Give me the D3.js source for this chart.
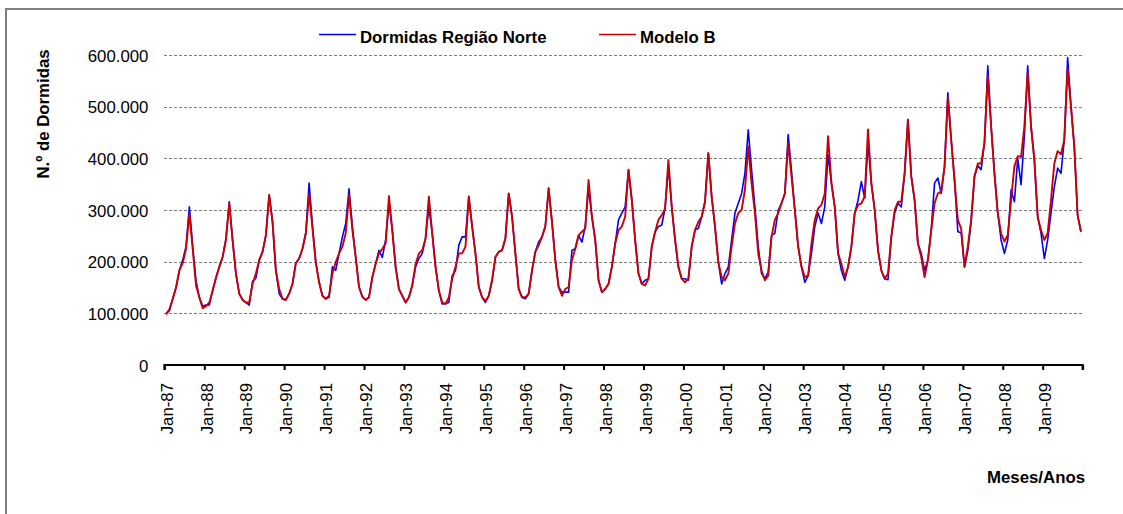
<!DOCTYPE html>
<html lang="pt">

<head>
  <meta charset="utf-8">
  <title>Dormidas Região Norte</title>
  <style>
    body {
      margin: 0;
      background: #fff;
    }

    svg text {
      font-family: Arial, "Liberation Sans", sans-serif;
      fill: #000;
    }

    .axis text {
      font-size: 16.8px;
    }

    .title {
      font-size: 16.8px;
      font-weight: bold;
    }

    .grid line {
      stroke: #808080;
      stroke-width: 1;
      stroke-dasharray: 3, 2;
      shape-rendering: crispEdges;
    }
  </style>
</head>

<body>
  <div id="chart"></div>
</body>
<script src="https://d3js.org/d3.v7.min.js"></script>

<script>

  // dormidas mensais (milhares), Jan-87 .. Dez-09
  let dormidas = [
    100, 105, 128, 150, 183, 203, 229, 306, 230, 163, 131, 114,
    116, 116, 144, 169, 190, 209, 243, 316, 241, 177, 138, 126,
    121, 116, 162, 168, 203, 219, 251, 329, 277, 183, 138, 128,
    126, 138, 157, 197, 206, 225, 255, 352, 270, 199, 160, 134,
    128, 131, 190, 183, 216, 248, 274, 341, 268, 209, 151, 132,
    126, 131, 170, 196, 222, 208, 242, 313, 261, 190, 147, 134,
    121, 131, 154, 190, 206, 216, 245, 306, 255, 190, 144, 118,
    119, 121, 173, 183, 232, 248, 248, 326, 268, 216, 151, 131,
    121, 134, 164, 209, 219, 222, 245, 332, 287, 216, 147, 131,
    128, 138, 183, 219, 238, 248, 268, 342, 277, 203, 151, 141,
    141, 141, 222, 225, 251, 238, 268, 342, 287, 242, 164, 141,
    147, 157, 190, 235, 281, 294, 306, 378, 319, 242, 177, 157,
    164, 167, 229, 258, 268, 271, 303, 384, 306, 242, 190, 167,
    167, 164, 229, 262, 264, 287, 316, 410, 326, 268, 199, 157,
    177, 190, 242, 294, 313, 332, 371, 455, 378, 306, 229, 177,
    167, 180, 251, 255, 300, 313, 332, 446, 375, 300, 229, 190,
    160, 173, 216, 268, 294, 274, 306, 407, 352, 306, 216, 183,
    164, 190, 229, 294, 319, 355, 323, 430, 352, 300, 222, 183,
    167, 165, 248, 294, 313, 306, 371, 475, 365, 319, 235, 216,
    183, 203, 261, 352, 362, 332, 384, 527, 436, 358, 258, 256,
    190, 222, 277, 365, 386, 378, 430, 579, 462, 371, 294, 242,
    216, 242, 339, 316, 400, 349, 443, 579, 462, 397, 287, 255,
    206, 242, 294, 345, 381, 371, 436, 595, 501, 423, 290, 258
  ];

  let modeloB = [
    98, 108, 128, 150, 183, 197, 225, 293, 225, 154, 131, 110,
    114, 121, 144, 169, 190, 209, 243, 313, 241, 177, 138, 126,
    121, 121, 157, 177, 203, 219, 251, 329, 277, 183, 147, 128,
    126, 138, 157, 197, 206, 225, 255, 331, 265, 199, 160, 134,
    128, 134, 177, 199, 216, 229, 255, 329, 262, 209, 151, 132,
    126, 131, 170, 196, 216, 225, 235, 327, 261, 190, 147, 134,
    121, 131, 154, 195, 216, 222, 245, 326, 255, 190, 144, 121,
    118, 131, 167, 190, 216, 216, 229, 326, 268, 216, 151, 131,
    124, 134, 164, 209, 219, 222, 245, 332, 287, 216, 147, 131,
    131, 138, 183, 219, 232, 248, 268, 342, 277, 203, 151, 134,
    147, 151, 203, 225, 251, 258, 264, 358, 287, 242, 164, 141,
    147, 157, 190, 235, 261, 268, 287, 378, 319, 242, 177, 157,
    154, 167, 229, 258, 281, 290, 303, 397, 306, 242, 190, 167,
    160, 167, 229, 261, 277, 287, 316, 410, 326, 268, 199, 170,
    164, 177, 229, 274, 294, 300, 339, 423, 352, 294, 216, 183,
    164, 173, 248, 281, 294, 313, 332, 430, 365, 300, 229, 190,
    170, 173, 235, 281, 303, 310, 332, 443, 352, 306, 216, 196,
    170, 190, 229, 294, 310, 313, 326, 456, 352, 300, 222, 183,
    167, 177, 248, 300, 316, 316, 371, 475, 365, 319, 235, 209,
    170, 203, 261, 313, 332, 336, 384, 518, 436, 358, 281, 264,
    190, 229, 281, 365, 390, 390, 430, 560, 462, 371, 294, 255,
    239, 251, 319, 385, 404, 403, 462, 566, 462, 397, 287, 261,
    242, 255, 319, 390, 414, 408, 436, 573, 501, 423, 290, 258
  ];

  let tickLabels = ["Jan-87", "Jan-88", "Jan-89", "Jan-90", "Jan-91", "Jan-92",
    "Jan-93", "Jan-94", "Jan-95", "Jan-96", "Jan-97", "Jan-98", "Jan-99",
    "Jan-00", "Jan-01", "Jan-02", "Jan-03", "Jan-04", "Jan-05", "Jan-06",
    "Jan-07", "Jan-08", "Jan-09"];

  let yTicks = [0, 100000, 200000, 300000, 400000, 500000, 600000];

  let seriesNames = ["Dormidas Região Norte", "Modelo B"];
  let seriesColors = ["#0000ff", "#cc0000"];

  let W = 1123;
  let H = 514;
  let plotLeft = 164.4;
  let plotRight = 1082.6;
  let plotTop = 55;
  let plotBottom = 365;

  let n = dormidas.length;

  let svg = d3.select("#chart")
    .append("svg")
    .attr("width", W)
    .attr("height", H);

  // moldura do gráfico
  svg.append("rect")
    .attr("x", 6)
    .attr("y", 9)
    .attr("width", W + 20)
    .attr("height", H + 20)
    .attr("fill", "#fff")
    .attr("stroke", "#808080")
    .attr("stroke-width", 2);

  let x = d3.scalePoint().domain(d3.range(n)).range([plotLeft, plotRight]).padding(0.5);
  let xb = d3.scaleLinear().domain([0, n]).range([plotLeft, plotRight]);
  let y = d3.scaleLinear().domain([0, 600000]).range([plotBottom, plotTop]);

  let fmt = d3.formatLocale({ decimal: ",", thousands: ".", grouping: [3], currency: ["", ""] }).format(",");

  // grelha
  svg.append("g")
    .attr("class", "grid")
    .selectAll("line")
    .data(yTicks.filter((d) => d > 0))
    .enter()
    .append("line")
    .attr("x1", plotLeft)
    .attr("x2", plotRight)
    .attr("y1", (d) => Math.round(y(d)) + 0.5)
    .attr("y2", (d) => Math.round(y(d)) + 0.5);

  // eixo y (so texto)
  let yAxis = svg.append("g")
    .attr("class", "axis")
    .attr("transform", "translate(" + plotLeft + ",0)")
    .call(d3.axisLeft(y).tickValues(yTicks).tickFormat(fmt).tickSize(0).tickPadding(16));
  yAxis.select(".domain").remove();
  yAxis.selectAll("text").attr("dy", "0.36em");

  // eixo x
  let xTickVals = d3.range(0, n + 1, 12);
  let xAxis = svg.append("g")
    .attr("class", "axis")
    .attr("transform", "translate(0," + plotBottom + ")")
    .call(d3.axisBottom(xb)
      .tickValues(xTickVals)
      .tickSize(5)
      .tickFormat((d) => tickLabels[d / 12] || ""));
  xAxis.select(".domain")
    .attr("stroke", "#000")
    .attr("stroke-width", 2)
    .attr("d", "M" + plotLeft + ",5V0H" + plotRight + "V5");
  xAxis.selectAll(".tick line").attr("stroke", "#000").attr("stroke-width", 2);
  xAxis.selectAll(".tick text")
    .attr("transform", "rotate(-90)")
    .attr("text-anchor", "end")
    .attr("x", -18)
    .attr("y", x.step() / 2)
    .attr("dy", "0.36em");

  // linhas
  let line = d3.line()
    .x((d, i) => x(i))
    .y((d) => y(d * 1000));

  [dormidas, modeloB].forEach((s, k) => {
    svg.append("path")
      .datum(s)
      .attr("fill", "none")
      .attr("stroke", seriesColors[k])
      .attr("stroke-width", k == 0 ? 1.6 : 1.9)
      .attr("stroke-linejoin", "round")
      .attr("d", line);
  });

  // legenda
  let legX = [319, 599];
  seriesNames.forEach((name, k) => {
    svg.append("line")
      .attr("x1", legX[k])
      .attr("x2", legX[k] + 37)
      .attr("y1", 34.5)
      .attr("y2", 34.5)
      .attr("stroke", seriesColors[k])
      .attr("stroke-width", 1.6);
    svg.append("text")
      .attr("class", "title")
      .attr("x", legX[k] + 41)
      .attr("y", 42.5)
      .text(name);
  });

  // titulos dos eixos
  svg.append("text")
    .attr("class", "title")
    .attr("transform", "translate(48.5,114) rotate(-90)")
    .attr("text-anchor", "middle")
    .text("N.º de Dormidas");

  svg.append("text")
    .attr("class", "title")
    .attr("x", 1085)
    .attr("y", 482.7)
    .attr("text-anchor", "end")
    .text("Meses/Anos");

</script>

</html>
